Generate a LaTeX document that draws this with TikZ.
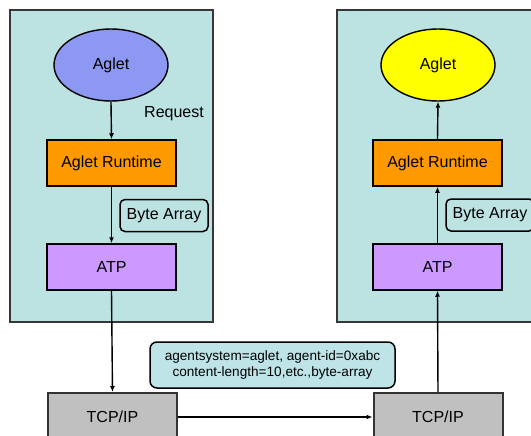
\documentclass[tikz,border=0pt]{standalone}
\usepackage{fontspec}
\setmainfont{Liberation Sans}
\usetikzlibrary{arrows.meta,shapes.geometric}
\definecolor{panelfill}{RGB}{188,226,226}
\definecolor{panelline}{RGB}{55,55,55}
\definecolor{agletblue}{RGB}{140,152,242}
\definecolor{agletyellow}{RGB}{255,255,0}
\definecolor{runtimeorange}{RGB}{255,153,0}
\definecolor{atppurple}{RGB}{204,153,255}
\definecolor{tcpgray}{RGB}{192,192,192}
\definecolor{msgfill}{RGB}{190,228,232}
\tikzset{
  panel/.style={draw=panelline, line width=2pt, fill=panelfill},
  agletnode/.style={ellipse, draw=black, line width=1.4pt, minimum width=114pt, minimum height=72pt, font=\fontsize{16}{18}\selectfont},
  layerbox/.style={rectangle, draw=black, line width=1.5pt, minimum width=129pt, minimum height=46pt, font=\fontsize{16}{18}\selectfont},
  tcpbox/.style={rectangle, draw=black!80, line width=2pt, fill=tcpgray, minimum width=129pt, minimum height=48pt, font=\fontsize{16}{18}\selectfont},
  tagbox/.style={rectangle, rounded corners=5pt, draw=black, line width=1.5pt, fill=panelfill, minimum width=88pt, minimum height=32pt, font=\fontsize{16}{18}\selectfont},
  msgbox/.style={rectangle, rounded corners=7pt, draw=black, line width=1.5pt, fill=msgfill, minimum width=245pt, minimum height=46pt, align=center, font=\fontsize{13.6}{16}\selectfont},
  flow/.style={draw=black, line width=1.4pt, -{Latex[length=6pt,width=5pt]}},
}
\begin{document}
\begin{tikzpicture}[x=1pt, y=-1pt]
  \clip (0,0) rectangle (531,436);
  \fill[white] (0,0) rectangle (531,436);

  % host panels
  \draw[panel] (10,10) rectangle (213,322);
  \draw[panel] (337,10) rectangle (560,322);

  % sending side
  \node[agletnode, fill=agletblue] (aglA) at (111,65) {Aglet};
  \node[layerbox, fill=runtimeorange] (rtA) at (111.5,163) {Aglet Runtime};
  \node[layerbox, fill=atppurple] (atpA) at (111.5,267) {ATP};
  \node[tcpbox] (tcpA) at (112.5,417) {TCP/IP};
  \node[font=\fontsize{16}{18}\selectfont] (req) at (174,114) {Request};
  \node[tagbox] (baA) at (164,215.5) {Byte Array};

  % receiving side
  \node[agletnode, fill=agletyellow] (aglB) at (438,65) {Aglet};
  \node[layerbox, fill=runtimeorange] (rtB) at (437.5,163) {Aglet Runtime};
  \node[layerbox, fill=atppurple] (atpB) at (437.5,267) {ATP};
  \node[tcpbox] (tcpB) at (438,417) {TCP/IP};
  \node[tagbox] (baB) at (490,215) {Byte Array};

  % message header
  \node[msgbox] (msg) at (272.5,365) {agentsystem=aglet, agent-id=0xabc\\content-length=10,etc.,byte-array};

  % downward path
  \draw[flow] (aglA.south) -- (rtA.north);
  \draw[flow] (rtA.south) -- (atpA.north);
  \draw[flow] (atpA.south) -- (tcpA.north);

  % network transfer
  \draw[flow] (tcpA.east) -- (tcpB.west);

  % upward path
  \draw[flow] (tcpB.north) -- (atpB.south);
  \draw[flow] (atpB.north) -- (rtB.south);
  \draw[flow] (rtB.north) -- (aglB.south);
\end{tikzpicture}
\end{document}
